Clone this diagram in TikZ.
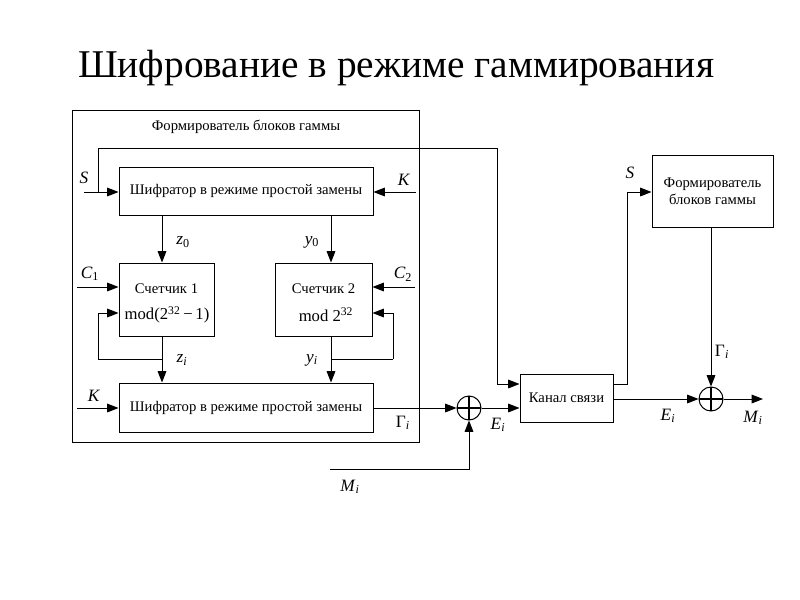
\documentclass[tikz,border=0pt]{standalone}
\usepackage{fontspec}
\setmainfont{Liberation Serif}
\usetikzlibrary{arrows.meta,fit,positioning}
\newcommand{\iv}[2]{\textit{#1}\textsubscript{#2}}
\begin{document}
\begin{tikzpicture}[x=0.75pt,y=-0.75pt,
  every node/.style={font=\fontsize{11}{13}\selectfont},
  blk/.style={draw, line width=0.75pt, inner sep=0pt, align=center},
  xorc/.style={draw, circle, line width=0.75pt, minimum size=18pt, inner sep=0pt,
    path picture={\draw[line width=0.9pt] (path picture bounding box.north) -- (path picture bounding box.south)
      (path picture bounding box.west) -- (path picture bounding box.east);}},
  ln/.style={line width=0.75pt},
  arr/.style={line width=0.75pt, -{Triangle[length=8.5pt,width=6.5pt]}},
  lab/.style={font=\fontsize{13}{15}\selectfont, inner sep=0pt}
]
\useasboundingbox (0,0) rectangle (800,600);
\fill[white] (0,0) rectangle (800,600);

\node[font=\fontsize{29.5}{34}\selectfont, anchor=base west, inner sep=0pt] (title) at (78,77) {Шифрование в режиме гаммирования};

% boxes
\node[blk, fit={(72,110) (419,442)}] (outer) {};
\node[anchor=center] (outertitle) at (246,127) {Формирователь блоков гаммы};
\node[blk, fit={(119,167) (373,215)}] (enc1) {};
\node (enc1t) at (enc1.center) {Шифратор в режиме простой замены};
\node[blk, fit={(119,263) (214,336)}] (c1) {};
\node (c1t) at (166.5,289) {Счетчик 1};
\node[font=\fontsize{12.5}{15}\selectfont, inner sep=0pt] (c1m) at (167,315) {mod(2\textsuperscript{32}\,−\,1)};
\node[blk, fit={(275,263) (372,336)}] (c2) {};
\node (c2t) at (323.5,289) {Счетчик 2};
\node[font=\fontsize{12.5}{15}\selectfont, inner sep=0pt] (c2m) at (326,315) {mod 2\textsuperscript{32}};
\node[blk, fit={(119,383) (373,432)}] (enc2) {};
\node (enc2t) at (enc2.center) {Шифратор в режиме простой замены};
\node[xorc] (x1) at (469,408) {};
\node[blk, fit={(520,374) (613,422)}] (chan) {};
\node (chant) at (chan.center) {Канал связи};
\node[blk, fit={(652,155) (773,227)}] (gen) {};
\node[align=center] (gent) at (gen.center) {Формирователь\\блоков гаммы};
\node[xorc] (x2) at (711,399) {};

% coordinates
\coordinate (sin) at (84,192);
\coordinate (sup) at (98,192);
\coordinate (stop1) at (98,148);
\coordinate (stop2) at (497,148);
\coordinate (stop3) at (497,384);
\coordinate (kin1) at (416,192);
\coordinate (c1in) at (77,287);
\coordinate (c2in) at (415,287);
\coordinate (fb1a) at (98,313);
\coordinate (fb1b) at (98,359);
\coordinate (fb2a) at (393,313);
\coordinate (fb2b) at (393,359);
\coordinate (kin2) at (77,408);
\coordinate (min1) at (330,469);
\coordinate (min2) at (469,469);
\coordinate (ch1) at (627,384);
\coordinate (ch2) at (627,192);
\coordinate (mout) at (763,399);

% connectors
\draw[arr] (sin) -- (enc1.west |- sin);
\draw[ln] (sup) -- (stop1) -- (stop2) -- (stop3);
\draw[arr] (stop3) -- (chan.west |- stop3);
\draw[arr] (kin1) -- (enc1.east |- kin1);
\draw[arr] (enc1.south -| 162,0) -- (c1.north -| 162,0);
\draw[arr] (enc1.south -| 331,0) -- (c2.north -| 331,0);
\draw[arr] (c1in) -- (c1.west |- c1in);
\draw[arr] (c2in) -- (c2.east |- c2in);
\draw[arr] (fb1b) -- (fb1a) -- (c1.west |- fb1a);
\draw[arr] (fb2b) -- (fb2a) -- (c2.east |- fb2a);
\draw[ln] (fb1b) -- (162,359);
\draw[ln] (fb2b) -- (331,359);
\draw[arr] (c1.south -| 162,0) -- (enc2.north -| 162,0);
\draw[arr] (c2.south -| 331,0) -- (enc2.north -| 331,0);
\draw[arr] (kin2) -- (enc2.west |- kin2);
\draw[arr] (enc2.east |- x1) -- (x1.west);
\draw[arr] (min1) -- (min2) -- (x1.south);
\draw[arr] (x1.east) -- (chan.west |- x1);
\draw[ln] (chan.east |- ch1) -- (ch1) -- (ch2);
\draw[arr] (ch2) -- (gen.west |- ch2);
\draw[arr] (gen.south -| x2) -- (x2.north);
\draw[arr] (chan.east |- x2) -- (x2.west);
\draw[arr] (x2.east) -- (mout);

% labels
\node[lab] (lS) at (84,178) {\textit{S}};
\node[lab] (lK1) at (404,180) {\textit{K}};
\node[lab] (lz0) at (183,242) {\iv{z}{0}};
\node[lab] (ly0) at (312,242) {\iv{y}{0}};
\node[lab] (lC1) at (90,274) {\iv{C}{1}};
\node[lab] (lC2) at (403,274) {\iv{C}{2}};
\node[lab] (lzi) at (182,360) {\iv{z}{\textit{i}}};
\node[lab] (lyi) at (312,360) {\iv{y}{\textit{i}}};
\node[lab] (lK2) at (94,396) {\textit{K}};
\node[lab] (lG1) at (403,423) {Γ\textsubscript{\textit{i}}};
\node[lab] (lE1) at (498,425) {\iv{E}{\textit{i}}};
\node[lab] (lM1) at (350,487) {\iv{M}{\textit{i}}};
\node[lab] (lS2) at (630,173) {\textit{S}};
\node[lab] (lG2) at (722,352) {Γ\textsubscript{\textit{i}}};
\node[lab] (lE2) at (668,416) {\iv{E}{\textit{i}}};
\node[lab] (lM2) at (753,418) {\iv{M}{\textit{i}}};
\end{tikzpicture}
\end{document}
